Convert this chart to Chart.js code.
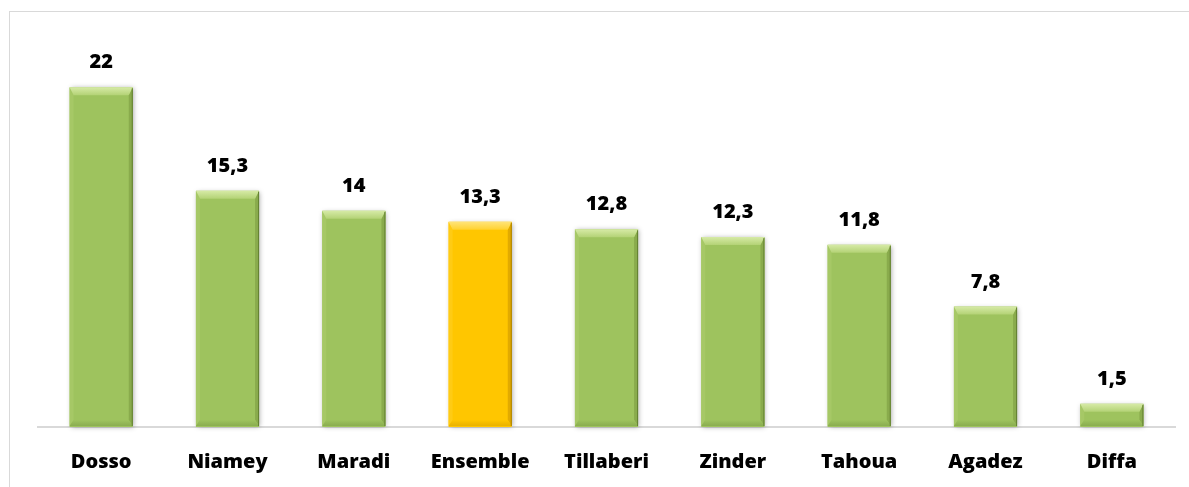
<!DOCTYPE html>
<html>
<head>
<meta charset="utf-8">
<script src="https://cdn.jsdelivr.net/npm/chart.js@4"></script>
<style>
    html, body { margin: 0; padding: 0; background: #fff; }
    #wrap { position: relative; width: 1189px; height: 487px; overflow: hidden; }
    #frame { position: absolute; left: 9px; top: 11px; width: 1200px; height: 500px; border: 1px solid #d9d9d9; }
    #myChart { position: absolute; left: 0; top: 0; }
</style>
</head>
<body>
<div id="wrap">
    <div id="frame"></div>
    <canvas id="myChart" width="1189" height="487"></canvas>
</div>
<script>
const regions = ['Dosso', 'Niamey', 'Maradi', 'Ensemble', 'Tillaberi', 'Zinder', 'Tahoua', 'Agadez', 'Diffa']
const values = [22, 15.3, 14, 13.3, 12.8, 12.3, 11.8, 7.8, 1.5]
const highlight = 'Ensemble'

// colours for the bevel: body, top light, top lower, left, right, bottom, edge
const greenShades = ['#9ec35e', '#d6eaa6', '#b3d275', '#a6c866', '#89ab4c', '#8aad50', '#627f31']
const yellowShades = ['#ffc600', '#ffe47a', '#ffd230', '#ffcb14', '#e2aa00', '#e9b200', '#a98000']

function shadesFor(i) {
    return regions[i] === highlight ? yellowShades : greenShades
}

// soft shadow behind each bar
const shadowPlugin = {
    id: 'barShadow',
    beforeDatasetsDraw(chart) {
        const ctx = chart.ctx
        const meta = chart.getDatasetMeta(0)
        ctx.save()
        ctx.shadowColor = 'rgba(0,0,0,0.35)'
        ctx.shadowBlur = 5
        ctx.shadowOffsetX = 1
        ctx.shadowOffsetY = 1
        ctx.fillStyle = '#fff'
        meta.data.forEach(bar => {
            ctx.fillRect(bar.x - bar.width / 2, bar.y, bar.width, bar.base - bar.y - 1)
        })
        ctx.restore()
    }
}

// draws the excel-like bevel on top of each bar
const bevelPlugin = {
    id: 'bevel',
    afterDatasetsDraw(chart) {
        const ctx = chart.ctx
        const meta = chart.getDatasetMeta(0)
        meta.data.forEach((bar, i) => {
            const s = shadesFor(i)
            const l = bar.x - bar.width / 2
            const r = bar.x + bar.width / 2
            const t = bar.y
            const b = bar.base - 1
            const h = b - t
            const dt = Math.min(8, h / 2)
            const db = Math.min(6, h / 3)
            const ds = 4
            const poly = (pts, fill) => {
                ctx.beginPath()
                ctx.moveTo(pts[0][0], pts[0][1])
                pts.slice(1).forEach(p => ctx.lineTo(p[0], p[1]))
                ctx.closePath()
                ctx.fillStyle = fill
                ctx.fill()
            }
            ctx.save()
            poly([[l, t], [l + ds, t + dt], [l + ds, b - db], [l, b]], s[3])
            poly([[r, t], [r, b], [r - ds, b - db], [r - ds, t + dt]], s[4])
            const gt = ctx.createLinearGradient(0, t, 0, t + dt)
            gt.addColorStop(0, s[1])
            gt.addColorStop(1, s[2])
            poly([[l, t], [r, t], [r - ds, t + dt], [l + ds, t + dt]], gt)
            const gb = ctx.createLinearGradient(0, b - db, 0, b)
            gb.addColorStop(0, s[0])
            gb.addColorStop(1, s[5])
            poly([[l, b], [l + ds, b - db], [r - ds, b - db], [r, b]], gb)
            ctx.strokeStyle = s[6]
            ctx.lineWidth = 1
            ctx.beginPath()
            ctx.moveTo(r - 0.5, t + 1)
            ctx.lineTo(r - 0.5, b)
            ctx.stroke()
            ctx.restore()
        })
    }
}

// value labels above the bars
const valueLabels = {
    id: 'valueLabels',
    afterDatasetsDraw(chart) {
        const ctx = chart.ctx
        const meta = chart.getDatasetMeta(0)
        ctx.save()
        ctx.font = '800 20px "Open Sans"'
        ctx.fillStyle = '#000'
        ctx.textAlign = 'center'
        ctx.textBaseline = 'alphabetic'
        meta.data.forEach((bar, i) => {
            ctx.fillText(String(values[i]).replace('.', ','), bar.x, bar.y - 19)
        })
        ctx.restore()
    }
}

document.addEventListener('DOMContentLoaded', () => {
    const ctx = document.getElementById('myChart')
    new Chart(ctx, {
        type: 'bar',
        data: {
            labels: regions,
            datasets: [{
                data: values,
                backgroundColor: regions.map((r, i) => shadesFor(i)[0]),
                borderWidth: 0,
                barPercentage: 0.5,
                categoryPercentage: 1
            }]
        },
        options: {
            responsive: false,
            animation: false,
            layout: { padding: { left: 38, right: 14, top: 41, bottom: 0 } },
            plugins: {
                legend: { display: false },
                tooltip: { enabled: false }
            },
            scales: {
                x: {
                    afterFit(scale) { scale.height = 60 },
                    grid: { display: false, drawTicks: false },
                    border: { display: true, color: '#d9d9d9', width: 2 },
                    ticks: {
                        padding: 23,
                        color: '#000',
                        font: { family: 'Open Sans', size: 20, weight: '800' }
                    }
                },
                y: {
                    display: false,
                    min: 0,
                    max: 25
                }
            }
        },
        plugins: [shadowPlugin, bevelPlugin, valueLabels]
    })
})
</script>
</body>
</html>
